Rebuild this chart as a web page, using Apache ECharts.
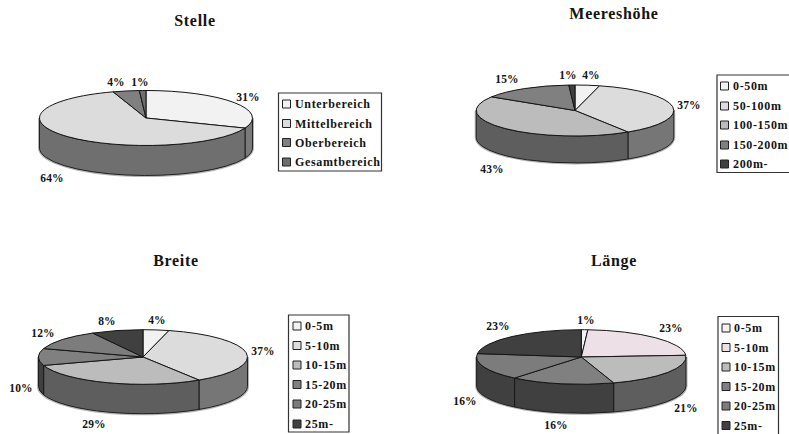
<!DOCTYPE html>
<html>
<head>
<meta charset="utf-8">
<style>
  html, body { margin: 0; padding: 0; background: #fff; overflow: hidden; }
  #chart { width: 789px; height: 434px; }
  /* wide tracking of the Times-style print face */
  #chart text { letter-spacing: 0.65px; }
  #chart text[style*="16px"] { letter-spacing: 0.7px; }
  #chart text[style*="11.5px"] { letter-spacing: 0.2px; }
</style>
<script src="https://cdn.jsdelivr.net/npm/echarts@6/dist/echarts.min.js"></script>
</head>
<body>
<div id="chart"></div>
<script>
// Survey results, percent per class
const stelleCategories = ['Unterbereich', 'Mittelbereich', 'Oberbereich', 'Gesamtbereich'];
const stelleValues = [31, 64, 4, 1];

const meeresCategories = ['0-50m', '50-100m', '100-150m', '150-200m', '200m-'];
const meeresValues = [4, 37, 43, 15, 1];

const breiteCategories = ['0-5m', '5-10m', '10-15m', '15-20m', '20-25m', '25m-'];
const breiteValues = [4, 37, 29, 10, 12, 8];

const laengeCategories = ['0-5m', '5-10m', '10-15m', '15-20m', '20-25m', '25m-'];
const laengeValues = [1, 23, 21, 16, 16, 23];

// Top face and rim shades per slice
const stelleStyle = { top: ['#f2f2f2', '#dcdcdc', '#808080', '#6e6e6e'], side: ['#7a7a7a', '#6f6f6f', '#404040', '#383838'] };
const meeresStyle = { top: ['#f2f2f2', '#dcdcdc', '#bcbcbc', '#808080', '#404040'], side: ['#7a7a7a', '#767676', '#5e5e5e', '#404040', '#202020'] };
const breiteStyle = { top: ['#f2f2f2', '#dcdcdc', '#bcbcbc', '#808080', '#7c7c7c', '#404040'], side: ['#7a7a7a', '#767676', '#5e5e5e', '#404040', '#3e3e3e', '#202020'] };
const laengeStyle = { top: ['#f2f2f2', '#ede0e6', '#bcbcbc', '#808080', '#7c7c7c', '#404040'], side: ['#7a7a7a', '#787074', '#5e5e5e', '#404040', '#404040', '#202020'] };

// Placement of each panel: pie ellipse, title, percent labels, legend box
const panels = [
  { title: 'Stelle', titleAt: [195, 21], categories: stelleCategories, values: stelleValues, style: stelleStyle,
    cx: 146, cy: 118, rx: 106.5, ry: 27.5, depth: 30,
    labelAt: [[248, 97], [52, 178], [116, 82], [140, 82]],
    box: [278.5, 93, 103, 78], swatchX: 282.5, textX: 295, rows: [104, 123.5, 142.5, 162] },
  { title: 'Meereshöhe', titleAt: [614, 14], categories: meeresCategories, values: meeresValues, style: meeresStyle,
    cx: 575, cy: 110.5, rx: 98.8, ry: 25.5, depth: 27,
    labelAt: [[591, 75], [689, 105], [492, 169], [507, 79], [568, 75]],
    box: [717, 75, 90, 97.5], swatchX: 720.5, textX: 733, rows: [86, 106, 125, 145, 164] },
  { title: 'Breite', titleAt: [176, 261], categories: breiteCategories, values: breiteValues, style: breiteStyle,
    cx: 143, cy: 357, rx: 104.5, ry: 27.3, depth: 29.4,
    labelAt: [[157, 320], [263, 351], [94, 424], [21, 388], [43, 333], [107, 321]],
    box: [288.5, 315, 60.5, 117], swatchX: 293, textX: 305, rows: [326, 345.5, 365, 384.5, 404, 424] },
  { title: 'Länge', titleAt: [614, 261], categories: laengeCategories, values: laengeValues, style: laengeStyle,
    cx: 581.3, cy: 357, rx: 104.7, ry: 27.3, depth: 29,
    labelAt: [[586, 320], [671, 328], [686, 408], [556, 425], [465, 401], [498, 326]],
    box: [718, 316.5, 60.5, 130], swatchX: 722, textX: 734, rows: [328, 347.5, 367, 386.5, 406, 425.5] }
];

const SERIF = '"Liberation Serif", "Times New Roman", serif';
const INK = '#141414';
const TAU = Math.PI * 2;

// Point on the ellipse rim, angle measured clockwise from twelve o'clock
function rim(p, t, dy) {
  return [p.cx + p.rx * Math.sin(t), p.cy - p.ry * Math.cos(t) + (dy || 0)];
}

function arcTo(p, t0, t1, dy, reverse) {
  const end = rim(p, reverse ? t0 : t1, dy);
  const large = Math.abs(t1 - t0) > Math.PI ? 1 : 0;
  return 'A' + p.rx + ' ' + p.ry + ' 0 ' + large + ' ' + (reverse ? 0 : 1) + ' ' + end[0] + ' ' + end[1];
}

function topFace(p, t0, t1) {
  const a = rim(p, t0);
  return 'M' + p.cx + ' ' + p.cy + 'L' + a[0] + ' ' + a[1] + arcTo(p, t0, t1) + 'Z';
}

function sideWall(p, t0, t1) {
  const a = rim(p, t0), b = rim(p, t1, p.depth);
  return 'M' + a[0] + ' ' + a[1] + arcTo(p, t0, t1) + 'L' + b[0] + ' ' + b[1] + arcTo(p, t0, t1, p.depth, true) + 'Z';
}

// One custom series per pie: the slice angles come from its values
function pieSeries(p) {
  const total = p.values.reduce((s, v) => s + v, 0);
  const starts = [];
  p.values.reduce((acc, v, i) => { starts[i] = acc / total * TAU; return acc + v; }, 0);
  return {
    type: 'custom',
    coordinateSystem: 'none',
    silent: true,
    animation: false,
    data: p.values,
    renderItem(params, api) {
      const i = params.dataIndex;
      const t0 = starts[i];
      const t1 = t0 + api.value(0) / total * TAU;
      const children = [];

      // soft pale edge along the lower rim of the body
      if (i === 0) {
        children.push({
          type: 'path',
          shape: { pathData: sideWall(p, Math.PI / 2, Math.PI * 1.5) },
          style: { fill: 'none', stroke: '#b4b4b4', lineWidth: 3 },
          z2: 0
        });
      }

      // visible part of the rim lies on the front half only
      const f0 = Math.max(t0, Math.PI / 2);
      const f1 = Math.min(t1, Math.PI * 1.5);
      if (f1 > f0) {
        children.push({
          type: 'path',
          shape: { pathData: sideWall(p, f0, f1) },
          style: { fill: p.style.side[i], stroke: '#151515', lineWidth: 0.9 },
          z2: 1
        });
      }

      children.push({
        type: 'path',
        shape: { pathData: topFace(p, t0, t1) },
        style: { fill: p.style.top[i], stroke: '#151515', lineWidth: 1 },
        z2: 2
      });

      const at = p.labelAt[i];
      children.push({
        type: 'text',
        style: {
          x: at[0], y: at[1], text: api.value(0) + '%',
          textAlign: 'center', textVerticalAlign: 'middle',
          font: 'bold 11.5px ' + SERIF, fill: INK
        },
        z2: 3
      });
      return { type: 'group', children };
    }
  };
}

// Framed legend with square keys, one row per class
function legendGraphic(p) {
  const [x, y, w, h] = p.box;
  const elements = [{
    type: 'rect',
    shape: { x, y, width: w, height: h },
    style: { fill: '#fff', stroke: '#333', lineWidth: 1.2 }
  }];
  p.categories.forEach((name, i) => {
    elements.push({
      type: 'rect',
      shape: { x: p.swatchX, y: p.rows[i] - 4, width: 8, height: 8 },
      style: { fill: p.style.top[i], stroke: '#222', lineWidth: 1 }
    });
    elements.push({
      type: 'text',
      style: {
        x: p.textX, y: p.rows[i], text: name,
        textAlign: 'left', textVerticalAlign: 'middle',
        font: 'bold 12px ' + SERIF, fill: INK
      }
    });
  });
  return elements;
}

const chart = echarts.init(document.getElementById('chart'), null, { renderer: 'svg' });
chart.setOption({
  backgroundColor: '#ffffff',
  animation: false,
  title: panels.map(p => ({
    text: p.title,
    left: p.titleAt[0],
    top: p.titleAt[1] - 9,
    textAlign: 'center',
    padding: 0,
    textStyle: { fontFamily: SERIF, fontWeight: 'bold', fontSize: 16, color: INK }
  })),
  graphic: { elements: panels.flatMap(legendGraphic) },
  series: panels.map(pieSeries)
});
</script>
</body>
</html>
